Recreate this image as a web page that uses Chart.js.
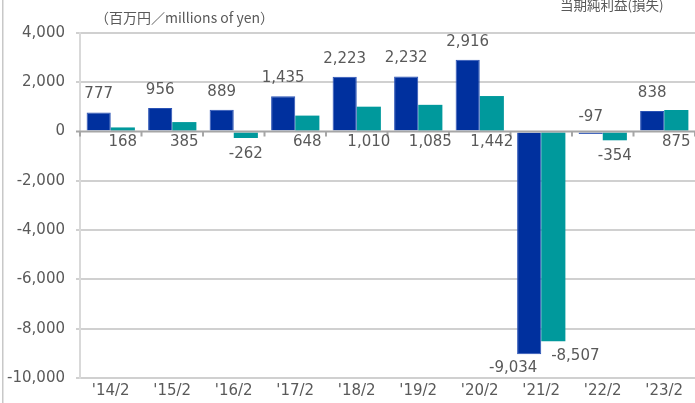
<!DOCTYPE html>
<html><head><meta charset="utf-8">
<script src="https://cdn.jsdelivr.net/npm/chart.js@4/dist/chart.umd.min.js"></script>
<style>html,body{margin:0;padding:0;background:#fff;overflow:hidden;}canvas{display:block;}</style>
</head><body>
<canvas id="c" width="695" height="403"></canvas>
<script>
const categories = ["'14/2", "'15/2", "'16/2", "'17/2", "'18/2", "'19/2", "'20/2", "'21/2", "'22/2", "'23/2"];
const ordinaryProfit = [777, 956, 889, 1435, 2223, 2232, 2916, -9034, -97, 838];
const netIncome = [168, 385, -262, 648, 1010, 1085, 1442, -8507, -354, 875];
const yTicks = [4000, 2000, 0, -2000, -4000, -6000, -8000, -10000];
const unitLabel = "（百万円／millions of yen）";
const legendLabel = "当期純利益(損失)";

const FONT = "'DejaVu Sans', 'Noto Sans CJK JP', sans-serif";
const TXT = '#595959';

const decor = {
  id: 'decor',
  beforeDraw(chart) {
    const ctx = chart.ctx;
    ctx.save();
    ctx.fillStyle = '#c8c8c8';
    ctx.fillRect(2, 0, 1.5, chart.height);
    ctx.fillStyle = TXT;
    ctx.textBaseline = 'middle';
    ctx.textAlign = 'left';
    ctx.font = "14px 'Noto Sans CJK JP', sans-serif";
    ctx.fillText(unitLabel, 95, 18);
    ctx.font = "13.5px 'Noto Sans CJK JP', sans-serif";
    ctx.fillText(legendLabel, 560, 5);
    ctx.restore();
  },
  afterDatasetsDraw(chart) {
    const ctx = chart.ctx;
    const ys = chart.scales.y;
    const y0 = ys.getPixelForValue(0);
    const area = chart.chartArea;
    ctx.save();
    ctx.strokeStyle = '#a6a6a6';
    ctx.lineWidth = 2;
    ctx.beginPath();
    ctx.moveTo(area.left - 4, y0);
    ctx.lineTo(area.right, y0);
    const n = categories.length;
    const w = (area.right - area.left) / n;
    for (let k = 0; k <= n; k++) {
      const x = area.left + k * w;
      ctx.moveTo(x, y0);
      ctx.lineTo(x, y0 + 5);
    }
    ctx.stroke();
    ctx.fillStyle = TXT;
    ctx.font = "15px " + FONT;
    ctx.textAlign = 'center';
    ctx.textBaseline = 'middle';
    chart.data.datasets.forEach((ds, i) => {
      const meta = chart.getDatasetMeta(i);
      meta.data.forEach((bar, j) => {
        const v = ds.data[j];
        let y, x = bar.x;
        if (i === 0) {
          if (v >= 0) y = bar.y - 18;
          else if (v > -1000) y = y0 - 14;
          else { y = bar.y + 14; x = bar.x - 16; }
        } else {
          if (v >= 0) y = y0 + 11;
          else if (v > -1000) y = bar.y + 16;
          else { y = bar.y + 15; x = bar.x + 22; }
        }
        ctx.fillText(v.toLocaleString('en-US'), x, y);
      });
    });
    ctx.restore();
  }
};

new Chart(document.getElementById('c'), {
  type: 'bar',
  data: {
    labels: categories,
    datasets: [
      { label: '経常利益(損失)', data: ordinaryProfit, backgroundColor: '#00309e', borderColor: '#2a52b5', borderWidth: 1,
        categoryPercentage: 0.785, barPercentage: 1 },
      { label: legendLabel, data: netIncome, backgroundColor: '#00999c', borderColor: '#00999c', borderWidth: 0,
        categoryPercentage: 0.785, barPercentage: 1 }
    ]
  },
  options: {
    responsive: false,
    animation: false,
    devicePixelRatio: 1,
    layout: { padding: { top: 33, left: 0, right: 0, bottom: 0 } },
    plugins: { legend: { display: false }, tooltip: { enabled: false } },
    scales: {
      x: {
        offset: true,
        grid: { display: false, drawTicks: false },
        border: { display: false },
        ticks: { color: TXT, font: { family: FONT, size: 15 }, padding: 4, maxRotation: 0 },
        afterFit(s) { s.height = 25; }
      },
      y: {
        min: -10000, max: 4000,
        afterBuildTicks(s) { s.ticks = yTicks.map(v => ({ value: v })); },
        grid: {
          color: c => (c.tick && c.tick.value === 0) ? 'rgba(0,0,0,0)' : '#d0d0d0',
          lineWidth: 2,
          drawTicks: true, tickLength: 4,
          tickColor: c => (c.tick && c.tick.value === 0) ? 'rgba(0,0,0,0)' : '#d0d0d0'
        },
        border: { display: true, color: '#d9d9d9', width: 2 },
        ticks: {
          color: TXT, font: { family: FONT, size: 15 }, padding: 11,
          callback: v => Number(v).toLocaleString('en-US')
        },
        afterFit(s) { s.width = 80; }
      }
    }
  },
  plugins: [decor]
});
</script>
</body></html>
